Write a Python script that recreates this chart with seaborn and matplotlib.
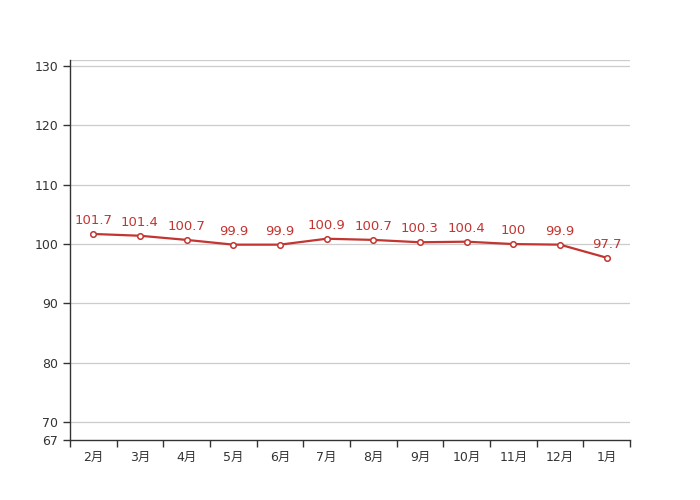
import numpy as np
import pandas as pd
import matplotlib
matplotlib.use('Agg')
import matplotlib.pyplot as plt
import seaborn as sns

months = ['2月', '3月', '4月', '5月', '6月', '7月', '8月', '9月', '10月', '11月', '12月', '1月']
values = [101.7, 101.4, 100.7, 99.9, 99.9, 100.9, 100.7, 100.3, 100.4, 100, 99.9, 97.7]
yticks = [67, 70, 80, 90, 100, 110, 120, 130]

sns.set_style('white')
plt.rcParams['font.family'] = ['DejaVu Sans', 'Noto Sans CJK SC']

red = '#c23531'
df = pd.DataFrame({'month': months, 'value': values, 'x': np.arange(len(months))})

fig = plt.figure(figsize=(7, 5), dpi=100)
ax = fig.add_axes([0.1, 0.12, 0.8, 0.76])

for y in yticks[1:] + [131]:
    ax.axhline(y, color='#cccccc', lw=0.9, zorder=0)

sns.lineplot(data=df, x='x', y='value', ax=ax, color=red, lw=1.6,
             marker='o', markersize=4, markerfacecolor='white',
             markeredgecolor=red, markeredgewidth=1.1, zorder=3)

for xi, v in zip(df['x'], df['value']):
    ax.annotate(f'{v:g}', (xi, v), xytext=(0, 5), textcoords='offset points',
                ha='center', va='bottom', color=red, fontsize=9.5)

ax.set_xlim(-0.5, len(months) - 0.5)
ax.set_ylim(67, 131)
ax.set_yticks(yticks)
ax.set_xticks(df['x'])
ax.set_xticklabels(months)
ax.set_xticks(np.arange(-0.5, len(months)), minor=True)
ax.tick_params(axis='x', which='major', bottom=True, length=0, pad=8, labelsize=9, colors='#333333')
ax.tick_params(axis='x', which='minor', bottom=True, length=5, width=1, color='#333333', direction='out')
ax.tick_params(axis='y', length=5, width=1, color='#333333', direction='out', labelsize=9, labelcolor='#333333', left=True)
ax.set_xlabel('')
ax.set_ylabel('')

sns.despine(ax=ax)
for s in ['left', 'bottom']:
    ax.spines[s].set_color('#333333')
    ax.spines[s].set_linewidth(1)

fig.savefig('out.png', dpi=100)
